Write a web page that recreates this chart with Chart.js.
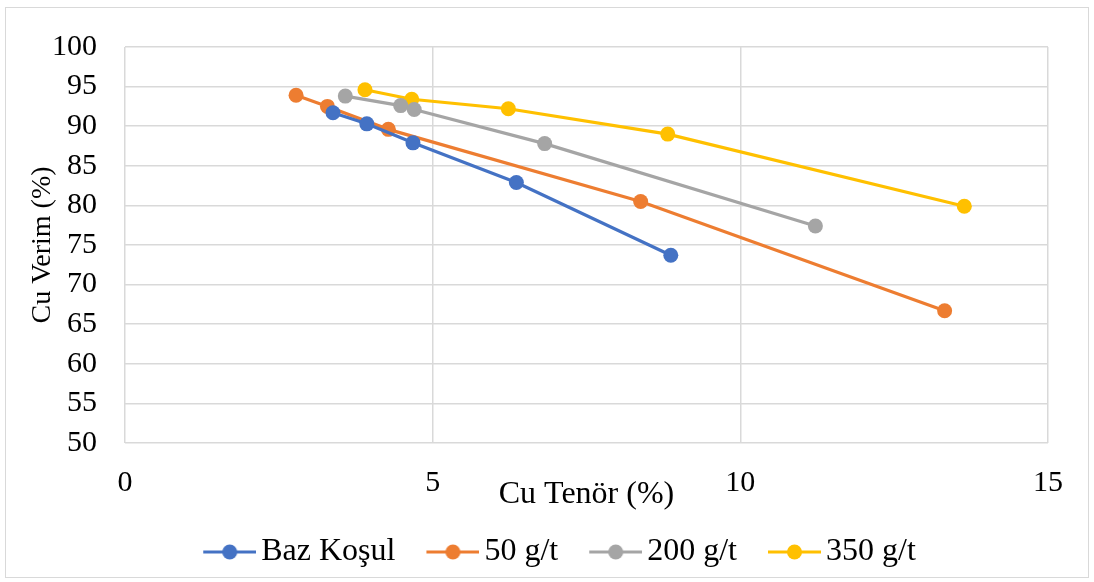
<!DOCTYPE html>
<html>
<head>
<meta charset="utf-8">
<script src="https://cdn.jsdelivr.net/npm/chart.js@4/dist/chart.umd.min.js"></script>
<style>
  html, body { margin: 0; padding: 0; background: #fff; }
  #wrap { width: 1094px; height: 582px; position: relative; }
</style>
</head>
<body>
<div id="wrap"><canvas id="chart" width="1094" height="582"></canvas></div>
<script>
// values
const seriesNames = ['Baz Koşul', '50 g/t', '200 g/t', '350 g/t'];
const bazX = [3.38, 3.93, 4.68, 6.36, 8.87];
const bazY = [91.7, 90.3, 87.9, 82.9, 73.7];
const g50X = [2.78, 3.29, 4.28, 8.38, 13.32];
const g50Y = [93.9, 92.5, 89.6, 80.5, 66.7];
const g200X = [3.58, 4.48, 4.70, 6.82, 11.22];
const g200Y = [93.8, 92.6, 92.1, 87.8, 77.4];
const g350X = [3.90, 4.66, 6.23, 8.82, 13.64];
const g350Y = [94.6, 93.4, 92.2, 89.0, 79.9];
const colors = ['#4472C4', '#ED7D31', '#A5A5A5', '#FFC000'];

const FONT = "'Liberation Serif', 'Times New Roman', serif";

function toPoints(xs, ys) {
  return xs.map((x, i) => ({ x: x, y: ys[i] }));
}

// line-with-dot icon for the legend, like excel draws it.
// left part of the canvas is left empty so the gaps come out right
function legendIcon(color) {
  const c = document.createElement('canvas');
  c.width = 85; c.height = 18;
  const g = c.getContext('2d');
  g.strokeStyle = color; g.lineWidth = 3;
  g.beginPath(); g.moveTo(32, 9); g.lineTo(85, 9); g.stroke();
  g.fillStyle = color;
  g.beginPath(); g.arc(58.5, 9, 7.5, 0, Math.PI * 2); g.fill();
  return c;
}
const icons = colors.map(legendIcon);

const allData = [[bazX, bazY], [g50X, g50Y], [g200X, g200Y], [g350X, g350Y]];

const background = {
  id: 'background',
  beforeDraw(chart) {
    const ctx = chart.ctx;
    ctx.save();
    ctx.fillStyle = '#fff';
    ctx.fillRect(0, 0, chart.width, chart.height);
    ctx.strokeStyle = '#d9d9d9';
    ctx.lineWidth = 1;
    ctx.strokeRect(5.5, 7.5, 1083, 570);
    ctx.restore();
  }
};

// nudge the legend a bit to the right, as in the picture
const legendShift = {
  id: 'legendShift',
  afterLayout(chart) {
    chart.legend.left += 20;
    chart.legend.right += 20;
  }
};

const ctx = document.getElementById('chart').getContext('2d');
const myChart = new Chart(ctx, {
  type: 'scatter',
  data: {
    datasets: allData.map((d, i) => ({
      label: seriesNames[i],
      data: toPoints(d[0], d[1]),
      showLine: true,
      borderColor: colors[i],
      backgroundColor: colors[i],
      borderWidth: 3.2,
      pointRadius: 7.5,
      pointHoverRadius: 7.5,
      pointBorderWidth: 0
    }))
  },
  options: {
    responsive: false,
    animation: false,
    layout: { padding: { left: 10, right: 46, top: 47, bottom: 4 } },
    scales: {
      x: {
        type: 'linear',
        min: 0, max: 15,
        ticks: { stepSize: 5, color: '#000', font: { family: FONT, size: 30 }, padding: 22 },
        grid: { color: '#d9d9d9', lineWidth: 1.5, drawTicks: false },
        border: { display: false },
        title: {
          display: true, text: 'Cu Tenör (%)', color: '#000',
          font: { family: FONT, size: 32 }, padding: { top: 0, bottom: 12 }
        },
        afterFit(scale) { scale.height = 83; }
      },
      y: {
        min: 50, max: 100,
        ticks: { stepSize: 5, autoSkip: false, color: '#000', font: { family: FONT, size: 30 }, padding: 28 },
        grid: { color: '#d9d9d9', lineWidth: 1.5, drawTicks: false },
        border: { display: false },
        title: {
          display: true, text: 'Cu Verim (%)', color: '#000',
          font: { family: FONT, size: 28 }, padding: { top: 16, bottom: 0 }
        },
        afterFit(scale) { scale.width = 115; }
      }
    },
    plugins: {
      tooltip: { enabled: false },
      legend: {
        position: 'bottom',
        labels: {
          color: '#000',
          font: { family: FONT, size: 32 },
          usePointStyle: true,
          pointStyleWidth: 63,
          padding: 10,
          generateLabels(chart) {
            const items = Chart.defaults.plugins.legend.labels.generateLabels(chart);
            items.forEach((it, i) => { it.pointStyle = icons[i]; });
            return items;
          }
        }
      }
    }
  },
  plugins: [background, legendShift]
});
</script>
</body>
</html>
